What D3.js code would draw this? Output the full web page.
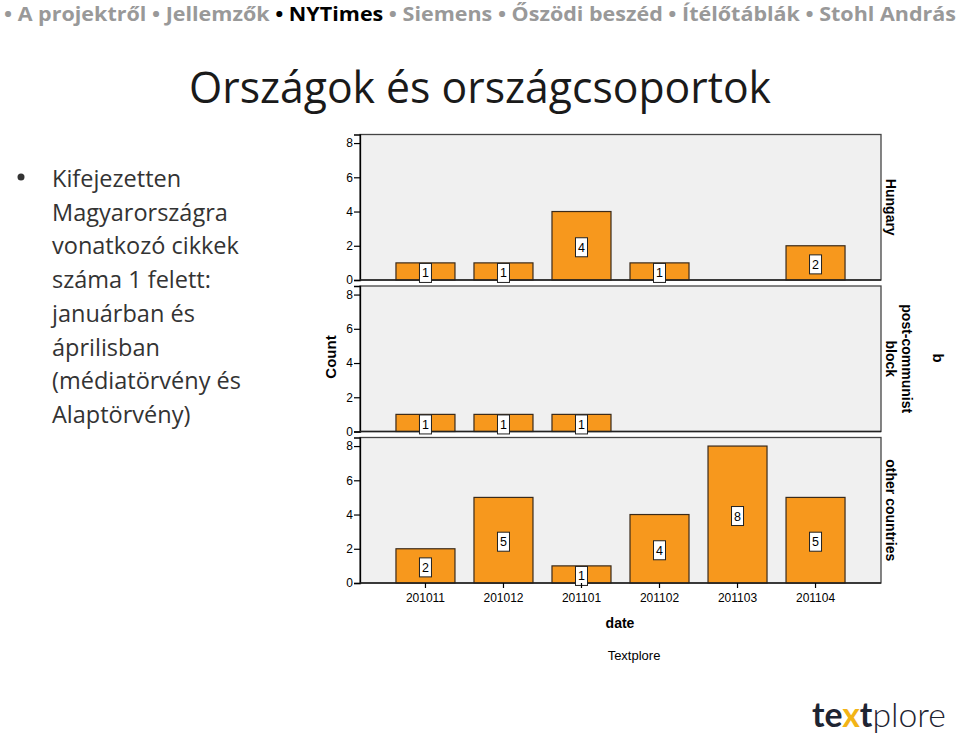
<!DOCTYPE html>
<html><head><meta charset="utf-8">
<script src="https://cdn.jsdelivr.net/npm/d3@7"></script>
<style>body{margin:0;background:#fff;}svg{display:block;}</style>
</head><body><svg id="c" width="960" height="738"></svg>
<script>
const navItems = ["A projektről","Jellemzők","NYTimes","Siemens","Őszödi beszéd","Ítélőtáblák","Stohl András"];
const activeNav = "NYTimes";
const title = "Országok és országcsoportok";
const bulletLines = ["Kifejezetten","Magyarországra","vonatkozó cikkek","száma 1 felett:","januárban és","áprilisban","(médiatörvény és","Alaptörvény)"];
const dates = ["201011","201012","201101","201102","201103","201104"];
const groups = ["Hungary","post-communist block","other countries"];
const groupLabelLines = [["Hungary"],["post-communist","block"],["other countries"]];
const hungary = [1,1,4,1,0,2];
const postCommunist = [1,1,1,0,0,0];
const otherCountries = [2,5,1,4,8,5];
const yTicks = [0,2,4,6,8];
const seriesList = [hungary, postCommunist, otherCountries];

const svg = d3.select("#c");
const BAR = "#f7981d";

// nav
const nav = svg.append("text").attr("x",4).attr("y",21)
  .attr("font-family","Open Sans, sans-serif").attr("font-weight","bold").attr("font-size",19.5);
navItems.forEach((n,i)=>{
  nav.append("tspan").attr("fill", n===activeNav?"#000":"#999").text("• ");
  nav.append("tspan").attr("fill", n===activeNav?"#000":"#999").text(n + (i<navItems.length-1?" ":""));
});
nav.attr("textLength", 952).attr("lengthAdjust","spacingAndGlyphs");

// title
svg.append("text").attr("x",480).attr("y",103).attr("text-anchor","middle")
  .attr("font-family","Open Sans, sans-serif").attr("font-size",44).attr("fill","#1a1a1a")
  .attr("textLength",582).attr("lengthAdjust","spacingAndGlyphs").text(title);

// bullet
svg.append("circle").attr("cx",21).attr("cy",177).attr("r",3.5).attr("fill","#333");
const bt = svg.append("g").attr("font-family","Open Sans, sans-serif").attr("font-size",23.5).attr("fill","#333");
bulletLines.forEach((l,i)=>{
  bt.append("text").attr("x",52).attr("y",187+i*33.7).text(l);
});

// chart
const x = d3.scaleBand().domain(dates).range([360,881]).paddingInner(0.2436).paddingOuter(0.461);
const panelTop0 = 134.5, panelStep = 151.5, panelH = 145.5;
const font = "Liberation Sans, Arial, sans-serif";

seriesList.forEach((vals, gi)=>{
  const top = panelTop0 + gi*panelStep;
  const y = d3.scaleLinear().domain([0,8.5]).range([top+panelH, top]);
  const g = svg.append("g");
  g.append("rect").attr("x",360).attr("y",top).attr("width",521).attr("height",panelH)
    .attr("fill","#f0f0f0").attr("stroke","#444").attr("stroke-width",1.3);
  const data = dates.map((d,i)=>({d, v: vals[i]})).filter(o=>o.v>0);
  g.selectAll("rect.bar").data(data).join("rect").attr("class","bar")
    .attr("x",o=>x(o.d)).attr("width",x.bandwidth())
    .attr("y",o=>y(o.v)).attr("height",o=>y(0)-y(o.v))
    .attr("fill",BAR).attr("stroke","#3a2a1a").attr("stroke-width",1.2);
  // y axis
  const ax = g.append("g").attr("transform",`translate(360,0)`)
    .call(d3.axisLeft(y).tickValues(yTicks).tickSize(6).tickPadding(1).tickFormat(d3.format("d")));
  ax.select(".domain").attr("stroke","#000").attr("stroke-width",1.3);
  ax.selectAll(".tick line").attr("stroke","#000").attr("stroke-width",1.2);
  ax.selectAll(".tick text").attr("font-family",font).attr("font-size",12).attr("fill","#000");
  // baseline
  g.append("line").attr("x1",360).attr("x2",881).attr("y1",y(0)).attr("y2",y(0))
    .attr("stroke","#222").attr("stroke-width",1.3);
  // value labels
  data.forEach(o=>{
    const cx = x(o.d)+x.bandwidth()/2;
    const cy = (y(o.v)+y(0))/2 + 1.5;
    g.append("rect").attr("x",cx-6).attr("y",cy-9.5).attr("width",12).attr("height",19)
      .attr("fill","#fff").attr("stroke","#222").attr("stroke-width",1);
    g.append("text").attr("x",cx).attr("y",cy+4.5).attr("text-anchor","middle")
      .attr("font-family",font).attr("font-size",12.5).attr("fill","#000").text(o.v);
  });
  // group strip label
  const gy = top + panelH/2;
  const lines = groupLabelLines[gi];
  const lt = g.append("text").attr("transform",`translate(${lines.length>1?907:891},${gy}) rotate(90)`)
    .attr("text-anchor","middle").attr("font-family",font).attr("font-weight","bold")
    .attr("font-size",14).attr("fill","#000");
  lines.forEach((l,li)=>{
    lt.append("tspan").attr("x",0).attr("dy", li===0? 5 : 16.5).text(l);
  });
});

// x axis
const bottom = panelTop0 + 2*panelStep + panelH;
const xa = svg.append("g").attr("transform",`translate(0,${bottom})`)
  .call(d3.axisBottom(x).tickSize(5).tickPadding(5));
xa.select(".domain").remove();
xa.selectAll(".tick line").attr("stroke","#000").attr("stroke-width",1.2);
xa.selectAll(".tick text").attr("font-family",font).attr("font-size",12).attr("fill","#000");

// axis titles
svg.append("text").attr("transform","translate(336,357) rotate(-90)").attr("text-anchor","middle")
  .attr("font-family",font).attr("font-weight","bold").attr("font-size",15).text("Count");
svg.append("text").attr("x",620).attr("y",628).attr("text-anchor","middle")
  .attr("font-family",font).attr("font-weight","bold").attr("font-size",14).text("date");
svg.append("text").attr("x",634).attr("y",660).attr("text-anchor","middle")
  .attr("font-family",font).attr("font-size",13).text("Textplore");
svg.append("text").attr("transform","translate(933,358) rotate(90)").attr("text-anchor","middle")
  .attr("font-family",font).attr("font-weight","bold").attr("font-size",15).text("b");

// logo
const logo = svg.append("text").attr("x",812).attr("y",727).attr("font-family","Lato, sans-serif").attr("font-size",34)
  .attr("textLength",134).attr("lengthAdjust","spacingAndGlyphs");
logo.append("tspan").attr("font-weight","bold").attr("fill","#1e2432").text("te");
logo.append("tspan").attr("font-weight","bold").attr("fill","#f2b416").text("x");
logo.append("tspan").attr("font-weight","bold").attr("fill","#1e2432").text("t");
logo.append("tspan").attr("font-weight","300").attr("fill","#1e2432").text("plore");
</script></body></html>
